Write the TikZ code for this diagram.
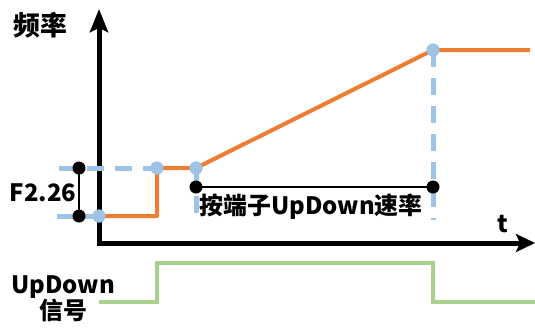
\documentclass[tikz,border=0pt]{standalone}
\usepackage{fontspec}
\setmainfont{Noto Sans CJK SC}
\usetikzlibrary{arrows.meta}
\definecolor{freqorange}{HTML}{ED7D31}
\definecolor{guideblue}{HTML}{9DC3E6}
\definecolor{siggreen}{HTML}{A9D18E}

\begin{document}
\begin{tikzpicture}
		[x = 1bp, y = -1bp,
		axis/.style={line width=5bp,-{Stealth[length=23bp,width=18bp,inset=4bp]}},
		freq/.style={line width=4bp,freqorange,line join=round},
		guide/.style={line width=5bp,guideblue,dash pattern=on 17bp off 11bp},
		signal/.style={line width=3.5bp,siggreen},
		bluedot/.style={circle,fill=guideblue,inner sep=0pt,minimum size=13bp},
		blackdot/.style={circle,fill=black,inner sep=0pt,minimum size=13bp},
		label/.style={font=\fontsize{24}{26}\selectfont\bfseries,inner sep=0pt}
		]
        \useasboundingbox (0,0) rectangle (535,327);

        % axes
        \coordinate (origin) at (99,243);
        \coordinate (ytip) at (99,9);
        \coordinate (xtip) at (535,243);
	    \draw[axis] ([yshift=-2.5bp]origin) -- (ytip);
	    \draw[axis,-{Stealth[length=19bp,width=18bp,inset=4bp]}] ([xshift=-2.5bp]origin) -- (xtip);
        \node[label,font=\fontsize{27}{29}\selectfont\bfseries] (ylabel) at (40,25) {频率};
        \node[label] (xlabel) at (503,224) {t};

        % dashed guides
        \def \ylow {216}
        \def \yhigh {168}
        \def \xstep {157}
        \def \xstart {196}
        \def \xend {433}
        \def \ytop {50}
        \coordinate (glow) at (57,\ylow);
        \coordinate (ghigh) at (59,\yhigh);
        \coordinate (gstart) at (\xstart,213);
        \coordinate (gend) at (\xend,220);

        \node[bluedot] (d0) at (99,\ylow) {};
        \node[bluedot] (d1) at (\xstep,\yhigh) {};
        \node[bluedot] (d2) at (\xstart,\yhigh) {};
        \node[bluedot] (d3) at (\xend,\ytop) {};

	    \draw[guide] (glow) -- (d0.center);
	    \draw[guide] (ghigh) -- (d1.center);
	    \draw[guide] (d2.center) -- (gstart);
	    \draw[guide] (d3.center) -- (gend);

        % frequency curve
        \coordinate (fstep) at (\xstep,\ylow);
        \coordinate (fright) at (530,\ytop);
        \draw[freq] (d0.center) -- (fstep) -- (d1.center) -- (d2.center) -- (d3.center) -- (fright);
        \node[bluedot] at (d0) {};
        \node[bluedot] at (d1) {};
        \node[bluedot] at (d2) {};
        \node[bluedot] at (d3) {};

        % F2.26 span
        \node[blackdot] (b1) at (79,\yhigh) {};
        \node[blackdot] (b2) at (79,\ylow) {};
        \draw[black,line width=2bp] (b1.center) -- (b2.center);
        \node[label] (param) at (43,193) {F2.26};

        % UpDown rate span
        \node[blackdot] (b3) at (\xstart,187) {};
        \node[blackdot] (b4) at (\xend,187) {};
        \draw[black,line width=2bp] (b3.center) -- (b4.center);
        \node[label] (rate) at (311,207) {按端子UpDown速率};

        % UpDown signal
        \coordinate (s0) at (99,302);
        \coordinate (s1) at (\xstep,302);
        \coordinate (s2) at (\xstep,263);
        \coordinate (s3) at (\xend,263);
        \coordinate (s4) at (\xend,302);
        \coordinate (s5) at (535,302);
        \draw[signal] (s0) -- (s1) -- (s2) -- (s3) -- (s4) -- (s5);
        \node[label,align=center] (sig) at (63,299) {UpDown\\信号};
\end{tikzpicture}
\end{document}
